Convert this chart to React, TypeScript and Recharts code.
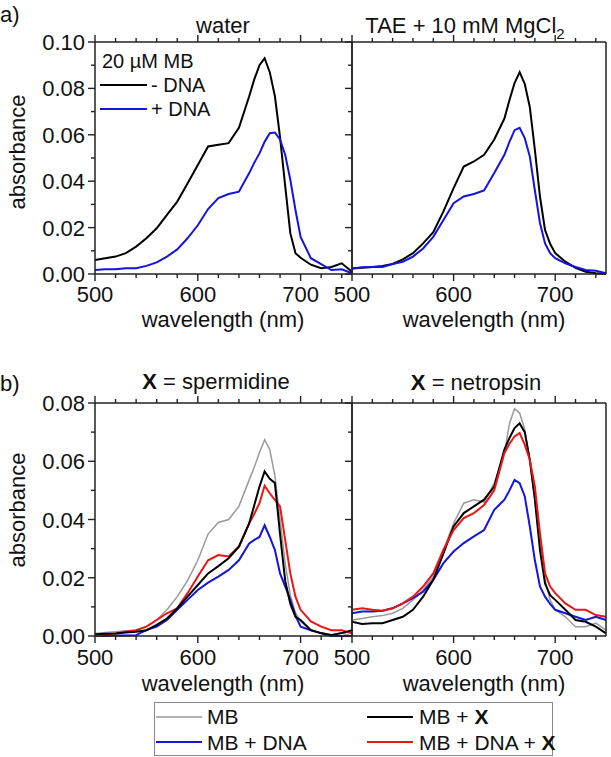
import React from 'react';
import { LineChart, Line, XAxis, YAxis } from 'recharts';

// shared wavelength grid (nm)
const WAVELENGTHS = [500, 510, 520, 530, 540, 550, 560, 570, 580, 590, 600, 610, 620, 630, 640, 650, 655, 660, 665, 670, 675, 680, 685, 690, 695, 700, 710, 720, 730, 740, 750];

// a) water
const waterNoDna = [0.006, 0.0068, 0.0075, 0.009, 0.0118, 0.0154, 0.0197, 0.0255, 0.0312, 0.039, 0.047, 0.055, 0.0557, 0.0564, 0.063, 0.0766, 0.084, 0.09, 0.093, 0.087, 0.0766, 0.059, 0.038, 0.0176, 0.009, 0.007, 0.004, 0.0025, 0.003, 0.0046, 0.001];
const waterDna = [0.0017, 0.002, 0.002, 0.0025, 0.0025, 0.0035, 0.005, 0.0075, 0.0106, 0.0154, 0.021, 0.028, 0.0327, 0.0345, 0.0355, 0.0435, 0.048, 0.052, 0.057, 0.0607, 0.061, 0.058, 0.0514, 0.0406, 0.0276, 0.016, 0.0068, 0.0043, 0.0017, 0.002, 0.0003];

// a) TAE + 10 mM MgCl2
const taeNoDna = [0.0024, 0.0027, 0.003, 0.0035, 0.0043, 0.0063, 0.009, 0.0132, 0.018, 0.027, 0.037, 0.0463, 0.0485, 0.0514, 0.058, 0.067, 0.075, 0.0823, 0.087, 0.082, 0.072, 0.0535, 0.0334, 0.019, 0.013, 0.009, 0.0053, 0.0027, 0.001, 0.0003, 0];
const taeDna = [0.0024, 0.0029, 0.003, 0.003, 0.0043, 0.0053, 0.0075, 0.011, 0.016, 0.0233, 0.0305, 0.0334, 0.0345, 0.036, 0.0435, 0.0514, 0.057, 0.062, 0.063, 0.0586, 0.0507, 0.036, 0.022, 0.0132, 0.009, 0.0068, 0.0046, 0.003, 0.0017, 0.0014, 0.0003];

// b) X = spermidine
const spermMb = [0.0009, 0.0012, 0.0015, 0.0018, 0.002, 0.0032, 0.0055, 0.009, 0.0135, 0.019, 0.026, 0.035, 0.039, 0.04, 0.0445, 0.0536, 0.058, 0.063, 0.0674, 0.064, 0.055, 0.04, 0.025, 0.014, 0.008, 0.005, 0.002, 0.001, 0.0005, 0.001, 0];
const spermMbX = [0.0006, 0.0008, 0.0009, 0.0012, 0.0015, 0.002, 0.0038, 0.006, 0.0095, 0.0135, 0.0175, 0.0215, 0.024, 0.0267, 0.0307, 0.0387, 0.045, 0.0513, 0.0565, 0.054, 0.0525, 0.035, 0.019, 0.011, 0.0066, 0.0055, 0.002, 0.001, 0.0003, 0.001, 0.002];
const spermMbDna = [0, 0, 0.0002, 0.0002, 0.0003, 0.002, 0.0032, 0.0055, 0.009, 0.0124, 0.0158, 0.0183, 0.0204, 0.0227, 0.026, 0.0318, 0.033, 0.034, 0.038, 0.034, 0.0295, 0.0215, 0.017, 0.0124, 0.007, 0.0032, 0.002, 0.0009, 0, 0, 0];
const spermMbDnaX = [0, 0.0005, 0.0009, 0.0015, 0.002, 0.0032, 0.0055, 0.0078, 0.0095, 0.0147, 0.0204, 0.026, 0.0278, 0.0273, 0.0307, 0.0387, 0.042, 0.0456, 0.0516, 0.049, 0.0467, 0.0445, 0.033, 0.0215, 0.0135, 0.009, 0.005, 0.0032, 0.002, 0.002, 0.0009];

// b) X = netropsin
const netMb = [0.0055, 0.006, 0.0066, 0.007, 0.0078, 0.0095, 0.0124, 0.0158, 0.0204, 0.0296, 0.0387, 0.0456, 0.0468, 0.046, 0.0525, 0.0628, 0.073, 0.078, 0.0766, 0.071, 0.0605, 0.0468, 0.032, 0.0193, 0.0124, 0.009, 0.0066, 0.0032, 0.0032, 0.0044, 0.002];
const netMbX = [0.0049, 0.0041, 0.0044, 0.0044, 0.0055, 0.0066, 0.009, 0.0135, 0.0193, 0.0284, 0.0376, 0.0422, 0.0445, 0.0468, 0.0513, 0.064, 0.068, 0.0714, 0.073, 0.07, 0.0605, 0.0468, 0.0296, 0.018, 0.014, 0.0124, 0.009, 0.0055, 0.0049, 0.0032, 0.0009];
const netMbDna = [0.0078, 0.0084, 0.0084, 0.0087, 0.0095, 0.0112, 0.013, 0.0152, 0.0193, 0.025, 0.029, 0.0319, 0.0342, 0.0364, 0.0433, 0.0468, 0.05, 0.0536, 0.0525, 0.048, 0.0376, 0.026, 0.017, 0.0135, 0.011, 0.009, 0.0078, 0.0066, 0.0055, 0.0066, 0.0055];
const netMbDnaX = [0.009, 0.0095, 0.009, 0.0087, 0.0095, 0.0112, 0.0135, 0.017, 0.0215, 0.0296, 0.0364, 0.0405, 0.0422, 0.045, 0.05, 0.0628, 0.066, 0.0685, 0.0697, 0.0657, 0.0605, 0.0513, 0.0353, 0.0215, 0.017, 0.0147, 0.0112, 0.009, 0.009, 0.0072, 0.0066];

const X_TICKS = [500, 520, 540, 560, 580, 600, 620, 640, 660, 680, 700, 720, 740];
const Y_TICKS_A = [0, 0.01, 0.02, 0.03, 0.04, 0.05, 0.06, 0.07, 0.08, 0.09, 0.1];
const Y_TICKS_B = [0, 0.01, 0.02, 0.03, 0.04, 0.05, 0.06, 0.07, 0.08];

const FONT = '"Liberation Sans", Arial, sans-serif';
const BLACK = '#000';
const BLUE = '#1414dc';
const RED = '#ee1414';
const GRAY = '#9a9a9a';
const AXIS = '#222';

type Series = { values: number[]; color: string; width: number };

function buildRows(series: Series[]) {
  return WAVELENGTHS.map((wl, i) => {
    const row: any = { wl };
    series.forEach((s, k) => (row['s' + k] = s.values[i]));
    return row;
  });
}

const isMajorY = (v: number) => Math.round(v * 100) % 2 === 0;

function BottomTick(props: any) {
  const { x, y, payload, labelOffset } = props;
  const v = payload.value;
  const major = v % 100 === 0;
  return (
    <g>
      <line x1={x} y1={y} x2={x} y2={y + (major ? 7 : 4)} stroke={AXIS} strokeWidth={1.4} />
      {major && (
        <text x={x} y={y + labelOffset} textAnchor="middle" fontSize={22} fontFamily={FONT} fill="#111">
          {v}
        </text>
      )}
    </g>
  );
}

function TopTick(props: any) {
  const { x, y, payload } = props;
  const major = payload.value % 100 === 0;
  return <line x1={x} y1={y} x2={x} y2={y - (major ? 7 : 4)} stroke={AXIS} strokeWidth={1.4} />;
}

function LeftTick(props: any) {
  const { x, y, payload, showLabel } = props;
  const v = payload.value;
  const major = isMajorY(v);
  return (
    <g>
      <line x1={x} y1={y} x2={x - (major ? 7 : 4)} y2={y} stroke={AXIS} strokeWidth={1.4} />
      {showLabel && major && (
        <text x={x - 10} y={y + 8} textAnchor="end" fontSize={22} fontFamily={FONT} fill="#111">
          {v.toFixed(2)}
        </text>
      )}
    </g>
  );
}

function RightTick(props: any) {
  const { x, y, payload } = props;
  const major = isMajorY(payload.value);
  return <line x1={x} y1={y} x2={x + (major ? 7 : 4)} y2={y} stroke={AXIS} strokeWidth={1.4} />;
}

interface PanelProps {
  series: Series[];
  yMax: number;
  yTicks: number[];
  side: 'left' | 'right';
  top: number;
  plotH: number;
  labelOffset: number;
}

function Panel({ series, yMax, yTicks, side, top, plotH, labelOffset }: PanelProps) {
  const rows = buildRows(series);
  const isLeft = side === 'left';
  const left = isLeft ? 0 : 300;
  const width = isLeft ? 362 : 311;
  const leftW = isLeft ? 95 : 52;
  const rightW = isLeft ? 10 : 5;
  const height = 32 + 10 + plotH + 60;
  return (
    <div style={{ position: 'absolute', left, top }}>
      <LineChart width={width} height={height} data={rows} margin={{ top: 32, right: 0, left: 0, bottom: 0 }}>
        <XAxis
          xAxisId="b"
          dataKey="wl"
          type="number"
          domain={[500, 750]}
          ticks={X_TICKS}
          interval={0}
          height={60}
          tickSize={0}
          tickMargin={0}
          tickLine={false}
          stroke={AXIS}
          strokeWidth={1.5}
          tick={(p: any) => <BottomTick {...p} labelOffset={labelOffset} />}
        />
        <XAxis
          xAxisId="t"
          orientation="top"
          dataKey="wl"
          type="number"
          domain={[500, 750]}
          ticks={X_TICKS}
          interval={0}
          height={10}
          tickSize={0}
          tickMargin={0}
          tickLine={false}
          stroke={AXIS}
          strokeWidth={1.5}
          tick={(p: any) => <TopTick {...p} />}
        />
        <YAxis
          yAxisId="l"
          type="number"
          domain={[0, yMax]}
          ticks={yTicks}
          interval={0}
          width={leftW}
          tickSize={0}
          tickMargin={0}
          tickLine={false}
          stroke={AXIS}
          strokeWidth={1.5}
          tick={(p: any) => <LeftTick {...p} showLabel={isLeft} />}
        />
        <YAxis
          yAxisId="r"
          orientation="right"
          type="number"
          domain={[0, yMax]}
          ticks={yTicks}
          interval={0}
          width={rightW}
          tickSize={0}
          tickMargin={0}
          tickLine={false}
          stroke={AXIS}
          strokeWidth={1.5}
          tick={isLeft ? false : (p: any) => <RightTick {...p} />}
        />
        {series.map((s, k) => (
          <Line
            key={k}
            xAxisId="b"
            yAxisId="l"
            type="linear"
            dataKey={'s' + k}
            stroke={s.color}
            strokeWidth={s.width}
            dot={false}
            isAnimationActive={false}
          />
        ))}
      </LineChart>
    </div>
  );
}

export default function App() {
  const txt = { fontFamily: FONT, fill: '#111' } as const;
  return (
    <div style={{ position: 'absolute', left: 0, top: 0, width: 611, height: 757, background: '#fff' }}>
      <Panel
        side="left"
        top={0}
        plotH={232}
        yMax={0.1}
        yTicks={Y_TICKS_A}
        labelOffset={28}
        series={[
          { values: waterNoDna, color: BLACK, width: 2 },
          { values: waterDna, color: BLUE, width: 2 },
        ]}
      />
      <Panel
        side="right"
        top={0}
        plotH={232}
        yMax={0.1}
        yTicks={Y_TICKS_A}
        labelOffset={28}
        series={[
          { values: taeNoDna, color: BLACK, width: 2 },
          { values: taeDna, color: BLUE, width: 2 },
        ]}
      />
      <Panel
        side="left"
        top={361}
        plotH={233}
        yMax={0.08}
        yTicks={Y_TICKS_B}
        labelOffset={29}
        series={[
          { values: spermMb, color: GRAY, width: 1.5 },
          { values: spermMbDna, color: BLUE, width: 2 },
          { values: spermMbDnaX, color: RED, width: 2 },
          { values: spermMbX, color: BLACK, width: 2 },
        ]}
      />
      <Panel
        side="right"
        top={361}
        plotH={233}
        yMax={0.08}
        yTicks={Y_TICKS_B}
        labelOffset={29}
        series={[
          { values: netMb, color: GRAY, width: 1.5 },
          { values: netMbDna, color: BLUE, width: 2 },
          { values: netMbX, color: BLACK, width: 2 },
          { values: netMbDnaX, color: RED, width: 2 },
        ]}
      />
      <svg width={611} height={757} style={{ position: 'absolute', left: 0, top: 0, pointerEvents: 'none' }}>
        {/* panel letters and titles */}
        <text x={0} y={22} fontSize={22} {...txt}>a)</text>
        <text x={0} y={391} fontSize={22} {...txt}>b)</text>
        <text x={223} y={33} fontSize={22} textAnchor="middle" {...txt}>water</text>
        <text x={465} y={33} fontSize={22} textAnchor="middle" {...txt}>
          TAE + 10 mM MgCl<tspan dy={6} fontSize={15}>2</tspan>
        </text>
        <text x={216} y={389} fontSize={22} textAnchor="middle" {...txt}>
          <tspan fontWeight="bold">X</tspan> = spermidine
        </text>
        <text x={476} y={390} fontSize={22} textAnchor="middle" {...txt}>
          <tspan fontWeight="bold">X</tspan> = netropsin
        </text>

        {/* axis titles */}
        <text transform="translate(25,152) rotate(-90)" fontSize={22} textAnchor="middle" {...txt}>absorbance</text>
        <text transform="translate(25,510) rotate(-90)" fontSize={22} textAnchor="middle" {...txt}>absorbance</text>
        <text x={223} y={327} fontSize={22} textAnchor="middle" {...txt}>wavelength (nm)</text>
        <text x={484} y={327} fontSize={22} textAnchor="middle" {...txt}>wavelength (nm)</text>
        <text x={223} y={691} fontSize={22} textAnchor="middle" {...txt}>wavelength (nm)</text>
        <text x={484} y={691} fontSize={22} textAnchor="middle" {...txt}>wavelength (nm)</text>

        {/* legend inside panel a */}
        <text x={102} y={68} fontSize={20} {...txt}>20 µM MB</text>
        <line x1={100} y1={85} x2={147} y2={85} stroke={BLACK} strokeWidth={2} />
        <text x={151} y={92} fontSize={20} {...txt}>- DNA</text>
        <line x1={100} y1={109} x2={147} y2={109} stroke={BLUE} strokeWidth={2} />
        <text x={151} y={116} fontSize={20} {...txt}>+ DNA</text>

        {/* legend of panel b */}
        <rect x={154.5} y={702.5} width={398} height={53} fill="none" stroke="#888" strokeWidth={1} />
        <line x1={156} y1={717} x2={202} y2={717} stroke={GRAY} strokeWidth={1.5} />
        <text x={207} y={724} fontSize={21} {...txt}>MB</text>
        <line x1={156} y1={742} x2={202} y2={742} stroke={BLUE} strokeWidth={2} />
        <text x={207} y={750} fontSize={21} {...txt}>MB + DNA</text>
        <line x1={367} y1={717} x2={413} y2={717} stroke={BLACK} strokeWidth={2} />
        <text x={419} y={724} fontSize={21} {...txt}>
          MB + <tspan fontWeight="bold">X</tspan>
        </text>
        <line x1={367} y1={742} x2={413} y2={742} stroke={RED} strokeWidth={2} />
        <text x={419} y={750} fontSize={21} {...txt}>
          MB + DNA + <tspan fontWeight="bold">X</tspan>
        </text>
      </svg>
    </div>
  );
}
